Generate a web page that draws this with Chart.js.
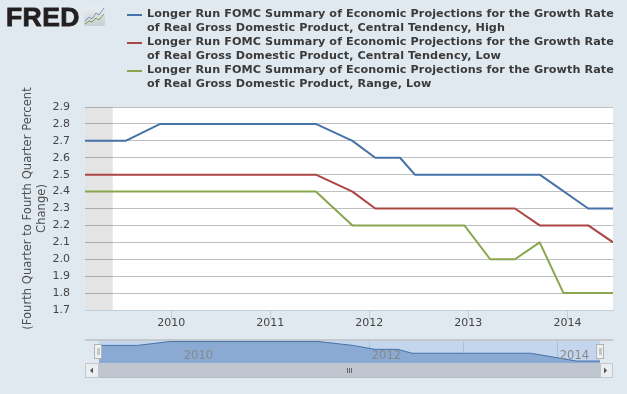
<!DOCTYPE html>
<html><head><meta charset="utf-8">
<style>
html,body{margin:0;padding:0;width:627px;height:394px;overflow:hidden;background:#e1e9f0;font-family:"DejaVu Sans",sans-serif}
#main{position:absolute;left:0;top:0}
#nav{position:absolute;left:99px;top:341px}
.abs{position:absolute;box-sizing:border-box}
#logo{left:6px;top:2px;font:bold 25px/30px "Liberation Sans",Arial,sans-serif;color:#231f20;-webkit-text-stroke:.8px #231f20;letter-spacing:.4px;transform:scaleX(1.06);transform-origin:left top;white-space:nowrap}
.lg{left:147px;font:bold 11.2px/14px "DejaVu Sans",sans-serif;color:#3a3a3a;white-space:nowrap;width:475px;letter-spacing:.09px}
.sw{left:127px;width:15px;height:2px}
</style></head><body>
<canvas id="main" width="627" height="394"></canvas>
<div id="logo" class="abs">FRED</div>
<svg class="abs" style="left:84px;top:7px" width="21" height="19">
<defs><linearGradient id="g" x1="0" y1="0" x2="0" y2="1"><stop offset="0" stop-color="#e8edf1"/><stop offset="1" stop-color="#c9cfd0"/></linearGradient></defs>
<rect width="21" height="19" rx="2" fill="url(#g)"/>
<polyline points="1,14 5,10 8,12 12,6 15,8 20,1" fill="none" stroke="#7e9ab5" stroke-width="1"/>
<polyline points="1,17 5,14 8,15 12,11 15,13 20,7" fill="none" stroke="#7f9a4e" stroke-width="1"/>
</svg>
<div id="legend"></div>
<div class="abs" style="left:85px;top:339px;width:528px;height:2px;background:#c3c9cf"></div>
<canvas id="nav" width="501" height="22"></canvas>
<div class="abs" style="left:94px;top:344px;width:8px;height:15px;background:#eef0f2;border:1px solid #b4b4b4"><div class="abs" style="left:1.5px;top:3px;width:3px;height:7px;background:#c4c8cc"></div></div>
<div class="abs" style="left:596px;top:344px;width:8px;height:15px;background:#eef0f2;border:1px solid #b4b4b4"><div class="abs" style="left:1.5px;top:3px;width:3px;height:7px;background:#c4c8cc"></div></div>
<div class="abs" style="left:99px;top:363px;width:501px;height:15px;background:#bfc6cf;border-bottom:1px solid #b5bbc4"></div>
<div class="abs" style="left:85px;top:363px;width:14px;height:15px;background:#ebeef1;border:1px solid #c3c8ce"></div>
<div class="abs" style="left:600px;top:363px;width:13px;height:15px;background:#ebeef1;border:1px solid #c3c8ce"></div>
<svg class="abs" style="left:85px;top:363px" width="528" height="15">
<polygon points="5,7.5 8,4.5 8,10.5" fill="#555"/><polygon points="522,7.5 519,4.5 519,10.5" fill="#555"/>
<g stroke="#666" stroke-width="1"><line x1="262.5" y1="5" x2="262.5" y2="10"/><line x1="264.5" y1="5" x2="264.5" y2="10"/><line x1="266.5" y1="5" x2="266.5" y2="10"/></g>
</svg>
<script src="https://cdn.jsdelivr.net/npm/chart.js@4"></script>
<script>
const legendTexts = [
  ["Longer Run FOMC Summary of Economic Projections for the Growth Rate","of Real Gross Domestic Product, Central Tendency, High"],
  ["Longer Run FOMC Summary of Economic Projections for the Growth Rate","of Real Gross Domestic Product, Central Tendency, Low"],
  ["Longer Run FOMC Summary of Economic Projections for the Growth Rate","of Real Gross Domestic Product, Range, Low"]
];
const seriesColors = ["#4572A7","#AA4643","#89A54E"];
const yAxisTitle = ["(Fourth Quarter to Fourth Quarter Percent","Change)"];
const yTickValues = [1.7,1.8,1.9,2.0,2.1,2.2,2.3,2.4,2.5,2.6,2.7,2.8,2.9];
const yearTicks = [2010,2011,2012,2013,2014];
const navYearTicks = [2010,2012,2014];
const recession = [2009.13,2009.41];
const highX = [2009.13,2009.54,2009.89,2011.46,2011.83,2012.06,2012.31,2012.46,2013.72,2014.21,2014.46];
const highY = [2.7,2.7,2.8,2.8,2.7,2.6,2.6,2.5,2.5,2.3,2.3];
const lowX = [2009.13,2011.46,2011.83,2012.06,2013.47,2013.72,2014.21,2014.46];
const lowY = [2.5,2.5,2.4,2.3,2.3,2.2,2.2,2.1];
const rangeX = [2009.13,2011.46,2011.83,2012.96,2013.22,2013.47,2013.72,2013.96,2014.46];
const rangeY = [2.4,2.4,2.2,2.2,2.0,2.0,2.1,1.8,1.8];
const pts = (xs,ys)=>xs.map((x,i)=>({x,y:ys[i]}));

const lg=document.getElementById('legend');
legendTexts.forEach((t,i)=>{
  const top=7+i*28;
  lg.insertAdjacentHTML('beforeend',`<div class="abs sw" style="top:${top+7}px;background:${seriesColors[i]}"></div><div class="abs lg" style="top:${top}px">${t[0]}<br>${t[1]}</div>`);
});

const plotBand={id:'plotBand',beforeDatasetsDraw(c){
  const {ctx,chartArea:a,scales:{x}}=c;
  const x0=x.getPixelForValue(recession[0]),x1=x.getPixelForValue(recession[1]);
  ctx.save();ctx.fillStyle='rgba(0,0,0,.105)';ctx.fillRect(x0,a.top,x1-x0,a.bottom-a.top);ctx.restore();
}};
const plotBg={id:'plotBg',beforeDraw(c){
  const {ctx,chartArea:a}=c;ctx.save();ctx.fillStyle='#fff';ctx.fillRect(a.left,a.top,a.width,a.height);ctx.restore();
}};
const mkDs=(xs,ys,i)=>({data:pts(xs,ys),borderColor:seriesColors[i],borderWidth:2,pointRadius:0,tension:0,fill:false,borderJoinStyle:'round'});
new Chart(document.getElementById('main'),{
  type:'line',
  data:{datasets:[mkDs(highX,highY,0),mkDs(lowX,lowY,1),mkDs(rangeX,rangeY,2)]},
  plugins:[plotBg,plotBand],
  options:{responsive:false,animation:false,events:[],
    layout:{padding:{left:21.5,top:107,right:14,bottom:57}},
    plugins:{legend:{display:false},tooltip:{enabled:false}},
    scales:{
      x:{type:'linear',min:2009.13,max:2014.46,
        afterBuildTicks(s){s.ticks=yearTicks.map(v=>({value:v}));},
        afterFit(s){s.height=27;},
        grid:{drawOnChartArea:false,drawTicks:true,tickLength:9,color:'#c0d0e0',tickColor:'#c0d0e0'},
        border:{color:'#c0d0e0'},
        ticks:{color:'#444',font:{family:'DejaVu Sans',size:11},padding:-2,maxRotation:0,autoSkip:false,callback:v=>String(v)}},
      y:{min:1.7,max:2.9,
        afterBuildTicks(s){s.ticks=yTickValues.map(v=>({value:v}));},
        afterFit(s){s.width=63.5;},
        grid:{color:'#c0c0c0',drawTicks:false,lineWidth:1},
        border:{display:false},
        title:{display:true,text:yAxisTitle,color:'#4d4d4d',font:{family:'DejaVu Sans',size:11.6,lineHeight:1.15},padding:0},
        ticks:{color:'#444',font:{family:'DejaVu Sans',size:11},padding:15,callback:v=>v.toFixed(1)}}
    }}
});

const navBg={id:'navBg',beforeDraw(c){
  const {ctx,width,height}=c;ctx.save();ctx.fillStyle='#c4d6ee';ctx.fillRect(0,0,width,height);ctx.restore();
},beforeDatasetsDraw(c){
  const {ctx,height,scales:{x}}=c;ctx.save();ctx.strokeStyle='rgba(150,170,200,.5)';
  yearTicks.forEach(v=>{const p=Math.round(x.getPixelForValue(v))+.5;ctx.beginPath();ctx.moveTo(p,0);ctx.lineTo(p,height);ctx.stroke();});
  ctx.restore();
},afterDatasetsDraw(c){
  const {ctx,scales:{x}}=c;ctx.save();ctx.fillStyle='#888';ctx.font='11.5px "DejaVu Sans"';ctx.textAlign='left';ctx.textBaseline='alphabetic';
  navYearTicks.forEach(v=>ctx.fillText(String(v),x.getPixelForValue(v)+3,18));
  ctx.restore();
}};
new Chart(document.getElementById('nav'),{
  type:'line',
  data:{datasets:[{data:pts(highX,highY),borderColor:'#4572A7',borderWidth:1,backgroundColor:'#8aaad4',pointRadius:0,tension:0,fill:'start'}]},
  plugins:[navBg],
  options:{responsive:false,animation:false,events:[],layout:{padding:0},
    plugins:{legend:{display:false},tooltip:{enabled:false}},
    scales:{x:{type:'linear',display:false,min:2009.13,max:2014.46},y:{display:false,min:2.25,max:2.8125}}}
});
</script>
</body></html>
